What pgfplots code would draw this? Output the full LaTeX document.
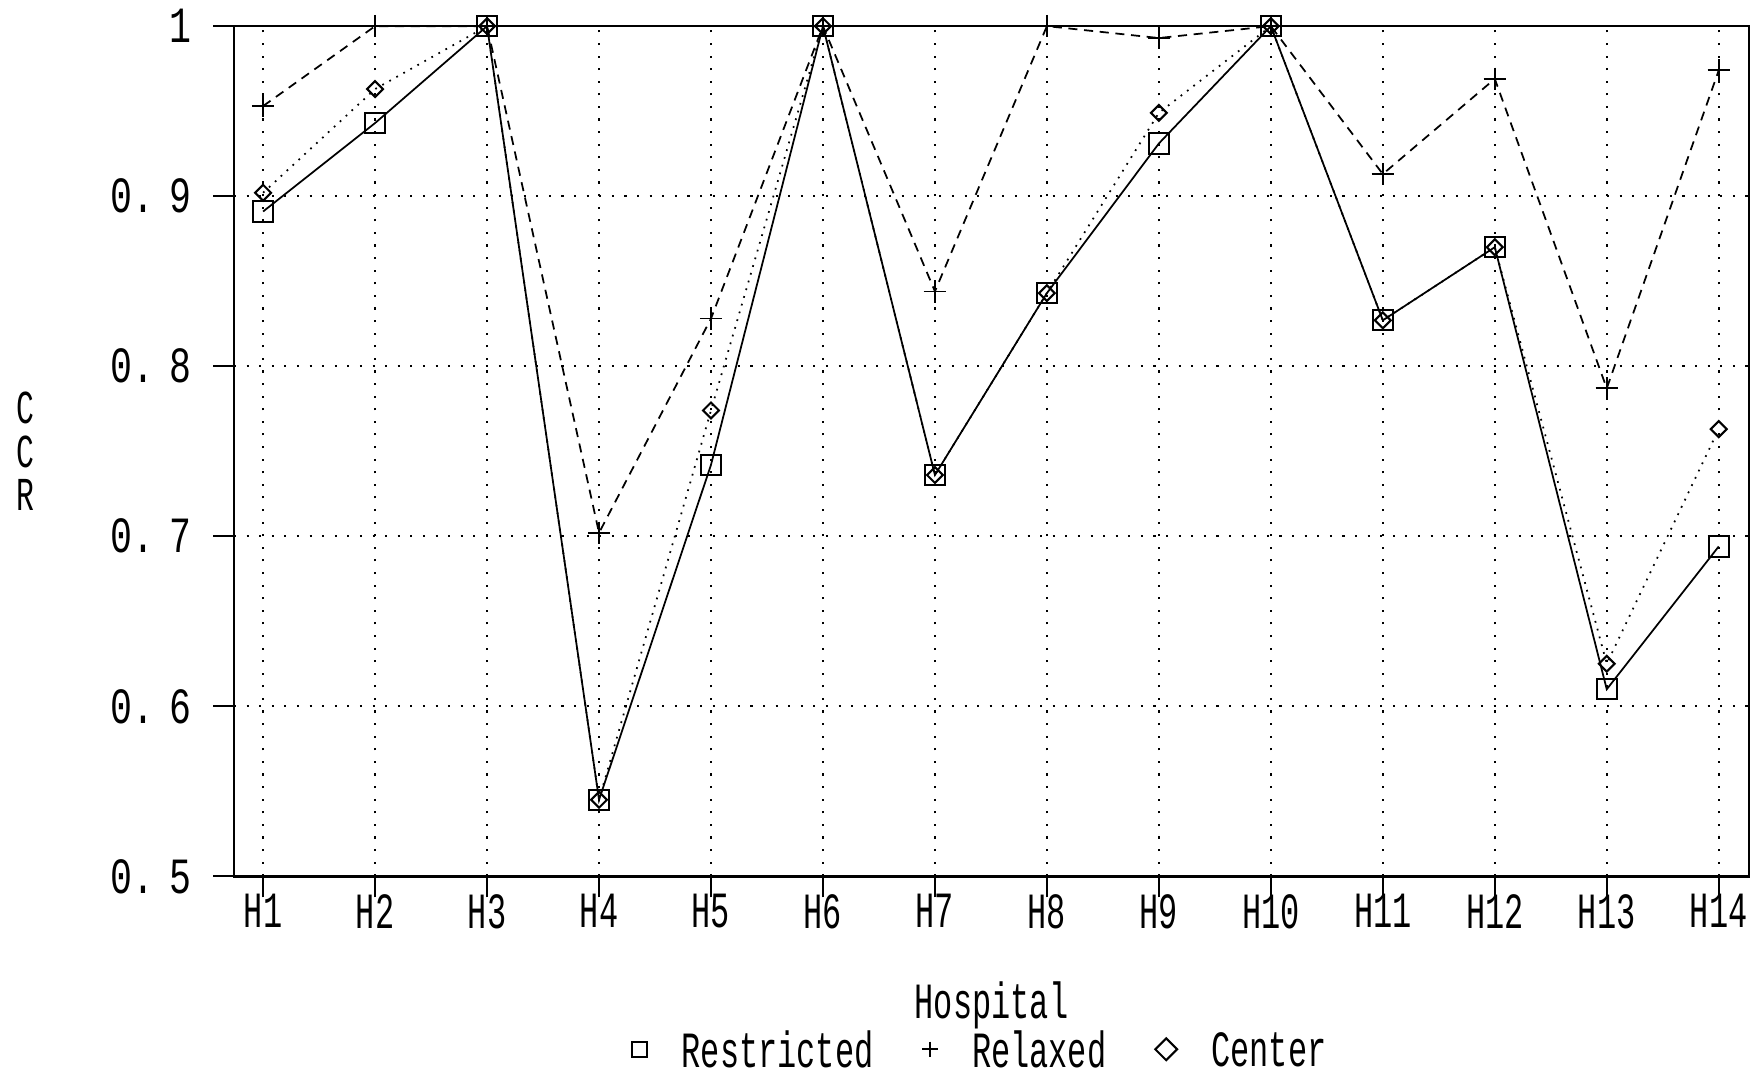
\documentclass[border={0pt 1.5pt 0pt 1.7pt}]{standalone}
\usepackage{fontspec}
\setmainfont{Liberation Mono}[FakeStretch=0.63]
\newfontfamily\tickfont{Liberation Mono}[FakeStretch=0.72]
\usepackage{pgfplots}
\pgfplotsset{compat=1.18}

\begin{document}
\fontsize{14.5pt}{17pt}\selectfont
\begin{tikzpicture}
\begin{axis}[
    scale only axis,
    width=433pt, height=243pt,
    xmin=0.74, xmax=14.27,
    ymin=0.5, ymax=1,
    xtick={1,2,3,4,5,6,7,8,9,10,11,12,13,14},
    xticklabels={H1,H2,H3,H4,H5,H6,H7,H8,H9,H10,H11,H12,H13,H14},
    ytick={0.5,0.6,0.7,0.8,0.9,1},
    yticklabels={0.\hspace{0.3em}5,0.\hspace{0.3em}6,0.\hspace{0.3em}7,0.\hspace{0.3em}8,0.\hspace{0.3em}9,1},
    xtick pos=bottom, ytick pos=left,
    tick align=outside,
    major tick length=6pt,
    tick style={line width=0.6pt, black},
    yticklabel style={xshift=-5pt, inner sep=1pt, font=\tickfont},
    xticklabel style={yshift=2pt, inner sep=1pt},
    grid=major,
    major grid style={black, line width=0.6pt, dash pattern=on 0.6pt off 3pt},
    axis line style={line width=0.7pt},
    xlabel={Hospital},
    xlabel style={at={(axis description cs:0.5,0)}, anchor=center, yshift=-37pt},
    ylabel={C\\C\\R},
    ylabel style={rotate=-90, align=center, font=\fontsize{13.5pt}{12.5pt}\selectfont,
      at={(axis description cs:0,0.5)}, anchor=center, xshift=-59.5pt},
    legend style={at={(0.5,0)}, anchor=north, yshift=-44pt, xshift=-3.5pt, draw=none, fill=none,
      inner sep=0pt, nodes={inner sep=0pt, text depth=0pt},
      legend columns=3,
      /tikz/every odd column/.append style={column sep=9.8pt},
      /tikz/every even column/.append style={column sep=14pt}},
    legend image code/.code={\draw[#1, mark size=2.2pt] plot coordinates {(0cm,0cm)};},
]
\addplot[black, line width=0.5pt, mark=square, mark size=2.9pt, mark options={solid, line width=0.6pt}]
coordinates {(1,0.891) (2,0.943) (3,1.0) (4,0.545) (5,0.742) (6,1.0) (7,0.736)
 (8,0.843) (9,0.931) (10,1.0) (11,0.827) (12,0.870) (13,0.610) (14,0.694)};
\addlegendentry{Restricted}
\addplot[black, line width=0.5pt, dash pattern=on 2.6pt off 1.9pt, mark=+, mark size=3.2pt, mark options={solid, line width=0.5pt}]
coordinates {(1,0.953) (2,1.0) (3,1.0) (4,0.702) (5,0.828) (6,1.0) (7,0.844)
 (8,1.0) (9,0.993) (10,1.0) (11,0.913) (12,0.969) (13,0.787) (14,0.974)};
\addlegendentry{Relaxed}
\addplot[black, line width=0.5pt, dash pattern=on 0.5pt off 1.8pt, mark=square, mark size=1.6pt, mark options={solid, rotate=45, line width=0.6pt}]
coordinates {(1,0.902) (2,0.963) (3,1.0) (4,0.545) (5,0.774) (6,1.0) (7,0.736)
 (8,0.843) (9,0.949) (10,1.0) (11,0.827) (12,0.870) (13,0.625) (14,0.763)};
\addlegendentry{Center}
\end{axis}
\end{tikzpicture}
\end{document}
